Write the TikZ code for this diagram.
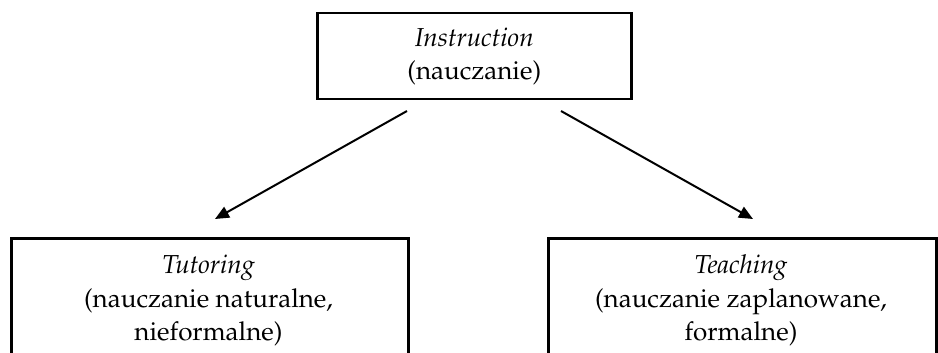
\documentclass[tikz,border=0pt]{standalone}
\usepackage[T1]{fontenc}
\usepackage{mathpazo}
\usetikzlibrary{arrows.meta}
\tikzset{
  box/.style={draw=black, line width=2.5pt, fill=none, inner sep=0pt},
  boxtext/.style={align=center, inner sep=0pt, font=\fontsize{26}{33.5}\selectfont},
  arr/.style={line width=2pt, -{Triangle[length=14pt,width=12pt]}}
}
\begin{document}
\begin{tikzpicture}[x=1pt,y=-1pt]
\useasboundingbox (0,0) rectangle (938,353);
% top box
\node[box, minimum width=314pt, minimum height=86pt, anchor=north west] (instbox) at (316,12) {};
\node[boxtext] (inst) at (instbox.center) {\textit{Instruction}\\(nauczanie)};
% bottom boxes (bottom edge lies below the visible area)
\node[box, minimum width=397pt, minimum height=160pt, anchor=north west] (tutbox) at (10,237) {};
\node[boxtext, anchor=north] (tut) at (208.5,255) {\textit{Tutoring}\\(nauczanie naturalne,\\nieformalne)};
\node[box, minimum width=388pt, minimum height=160pt, anchor=north west] (teabox) at (547,237) {};
\node[boxtext, anchor=north] (tea) at (741,255) {\textit{Teaching}\\(nauczanie zaplanowane,\\formalne)};
% arrow end points
\coordinate (a1s) at (407,111);
\coordinate (a1e) at (215,219);
\coordinate (a2s) at (561,111);
\coordinate (a2e) at (753,219);
\draw[arr] (a1s) -- (a1e);
\draw[arr] (a2s) -- (a2e);
\end{tikzpicture}
\end{document}
